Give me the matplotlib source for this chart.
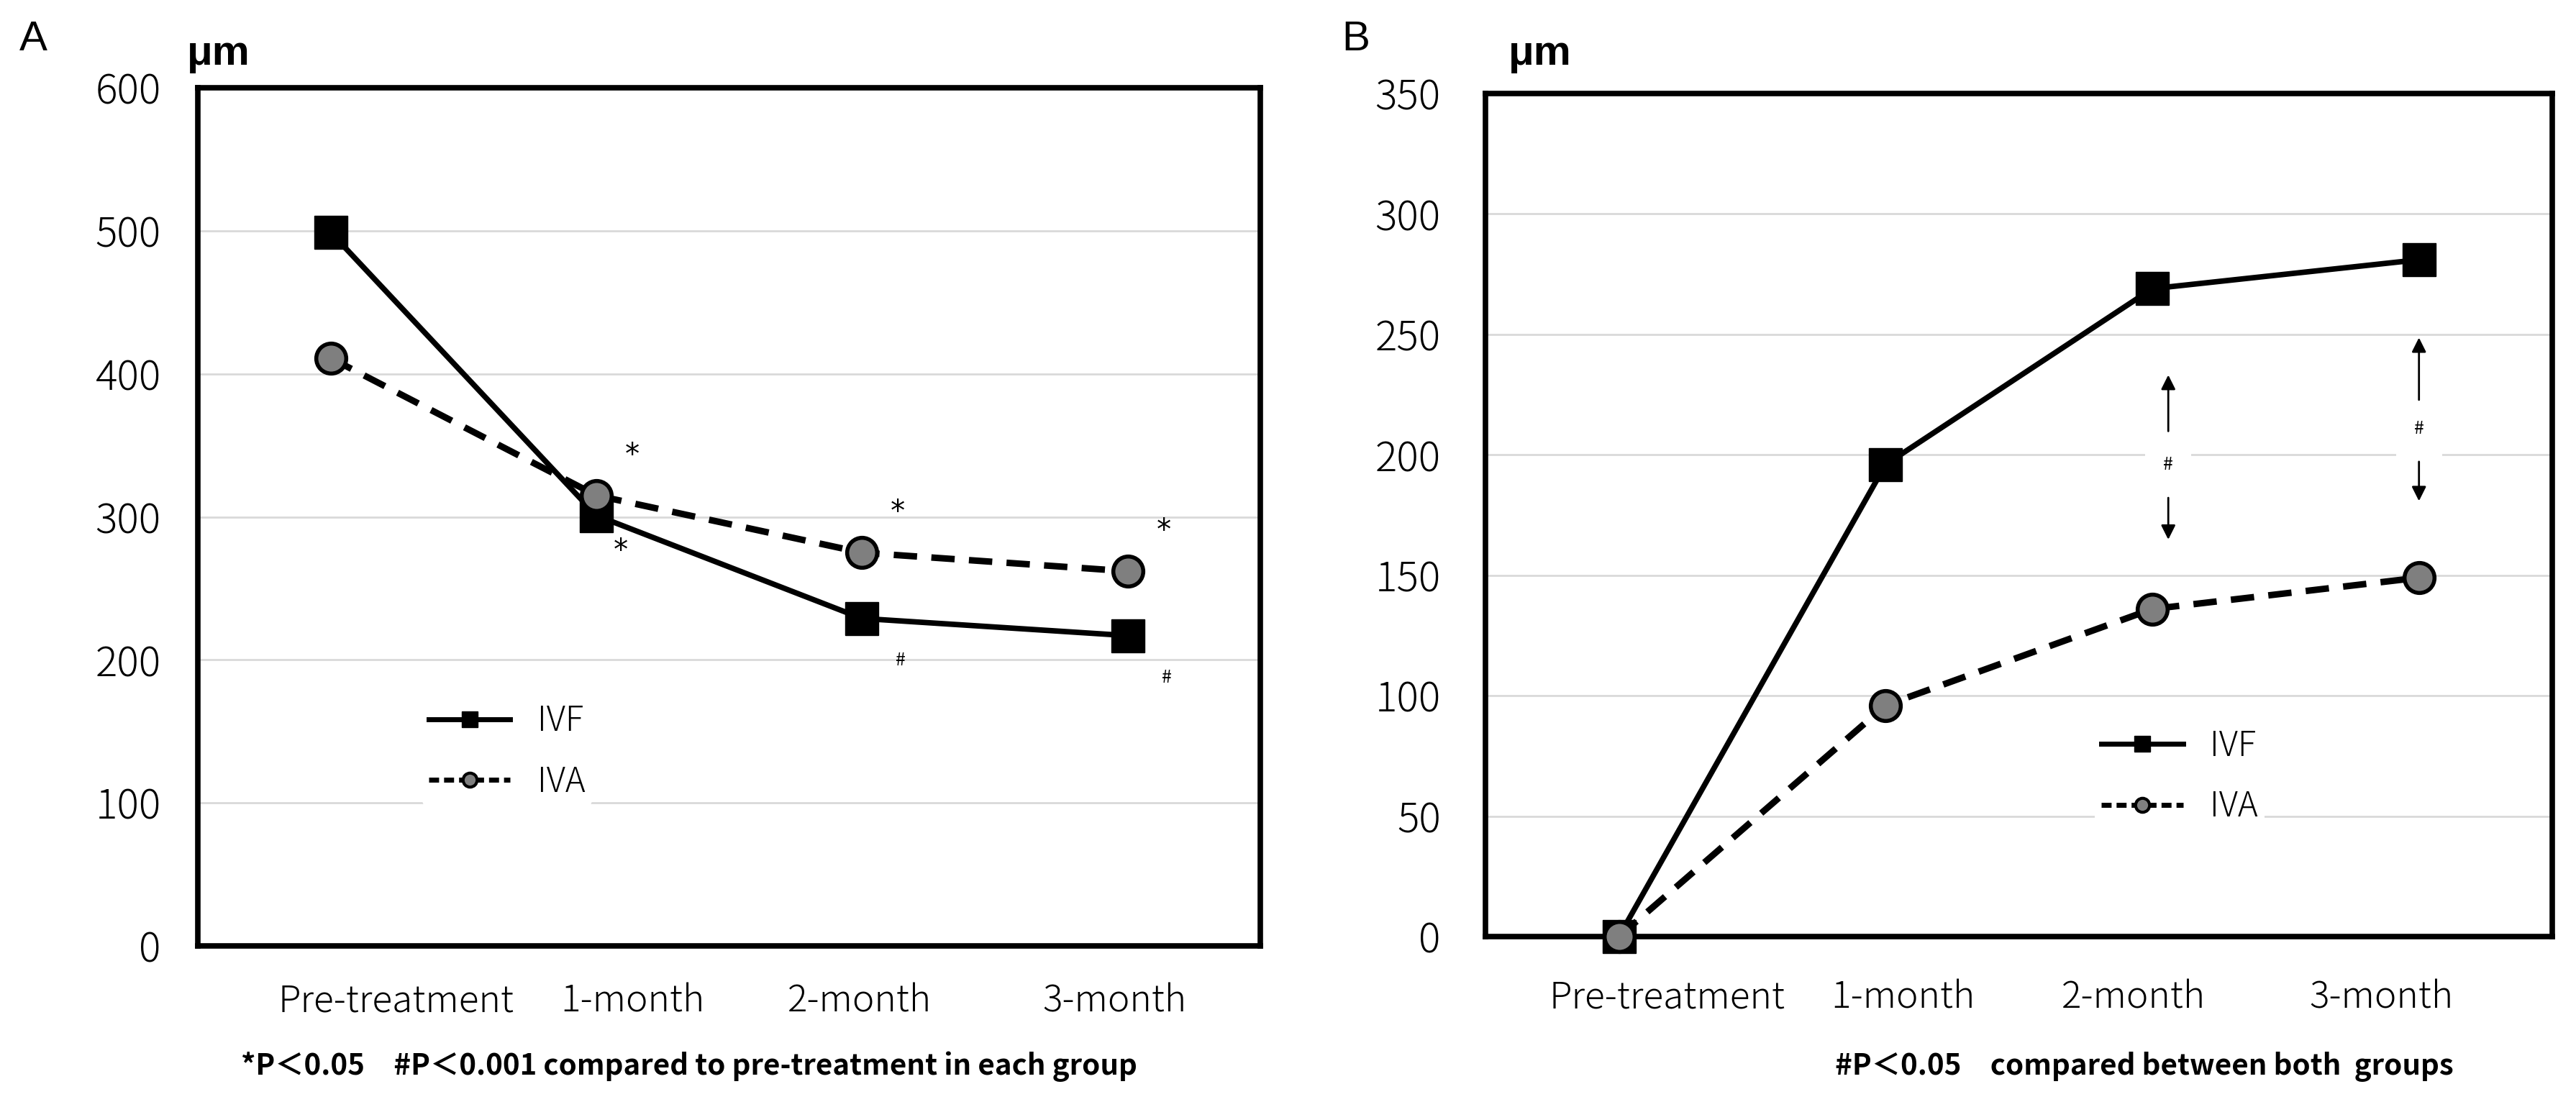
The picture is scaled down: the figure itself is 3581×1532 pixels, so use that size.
import matplotlib
matplotlib.use("Agg")
import matplotlib.pyplot as plt
from matplotlib.lines import Line2D

categories = ["Pre-treatment", "1-month", "2-month", "3-month"]

# panel A values (um)
a_ivf = [499, 301, 229, 217]
a_iva = [411, 315, 275, 262]
a_yticks = [0, 100, 200, 300, 400, 500, 600]
# where the category labels sit (they are not centred under the points)
a_label_pos = [0.245, 1.136, 1.99, 2.95]

# panel B values (um)
b_ivf = [0, 196, 269, 281]
b_iva = [0, 96, 136, 149]
b_yticks = [0, 50, 100, 150, 200, 250, 300, 350]
b_label_pos = [0.182, 1.064, 1.93, 2.86]

# significance marks, panel A (index of time point)
a_star_iva = [1, 2, 3]
a_star_ivf = [1]
a_hash_ivf = [2, 3]

# significance marks, panel B: arrows between groups
b_hash_idx = [2, 3]
b_arrow_x = [2.06, 3.0]
b_hash_y = [196, 211]
b_up = [(209, 234), (222, 249.5)]
b_down = [(183, 164), (198, 180)]

tick_font = "Noto Sans CJK JP"
gray = "#7f7f7f"

fig = plt.figure(figsize=(35.81, 15.32), dpi=100)
axA = fig.add_axes([0.0768, 0.1416, 0.4125, 0.7787])
axB = fig.add_axes([0.5767, 0.1501, 0.4141, 0.7650])


def style_axes(ax, yticks, label_pos, ypad, xpad):
    ax.set_xlim(-0.5, 3.5)
    ax.set_ylim(yticks[0], yticks[-1])
    ax.set_yticks(yticks)
    ax.set_xticks(label_pos)
    ax.set_xticklabels(categories)
    for s in ax.spines.values():
        s.set_linewidth(5.5)
        s.set_color("black")
    ax.yaxis.grid(True, color="#d9d9d9", lw=2)
    ax.set_axisbelow(True)
    ax.tick_params(axis="y", length=0, pad=ypad, labelsize=41)
    ax.tick_params(axis="x", length=0, pad=xpad, labelsize=37)
    for lab in ax.get_xticklabels() + ax.get_yticklabels():
        lab.set_family(tick_font)
        lab.set_weight("light")


def draw_lines(ax, ivf, iva):
    x = range(len(categories))
    ax.plot(x, ivf, color="black", lw=5.5, marker="s", ms=33, zorder=3,
            clip_on=False)
    ax.plot(x, iva, color="black", lw=6.5, ls=(0, (3.6, 2.2)), marker="o",
            ms=30, mfc=gray, mec="black", mew=4, zorder=4, clip_on=False)


def add_legend(ax, anchor):
    handles = [
        Line2D([], [], color="black", lw=5, marker="s", ms=16),
        Line2D([], [], color="black", lw=5, ls=(0, (2, 1)), marker="o",
               ms=14, mfc=gray, mec="black", mew=3),
    ]
    leg = ax.legend(handles, ["IVF", "IVA"], loc="upper left",
                    bbox_to_anchor=anchor, frameon=True, framealpha=1,
                    facecolor="white", edgecolor="none",
                    handlelength=2.4, handletextpad=0.8, labelspacing=0.75,
                    borderpad=0.2,
                    prop={"family": tick_font, "size": 34, "weight": "light"})
    return leg


# ---- panel A
style_axes(axA, a_yticks, a_label_pos, 37, 36)
draw_lines(axA, a_ivf, a_iva)
add_legend(axA, (0.195, 0.31))

for i in a_star_iva:
    axA.annotate("*", xy=(i, a_iva[i]), xytext=(50, 55),
                 textcoords="offset pixels", ha="center", va="center",
                 fontsize=29)
for i in a_star_ivf:
    axA.annotate("*", xy=(i, a_ivf[i]), xytext=(34, -50),
                 textcoords="offset pixels", ha="center", va="center",
                 fontsize=29)
for i in a_hash_ivf:
    axA.annotate("#", xy=(i, a_ivf[i]), xytext=(54, -58),
                 textcoords="offset pixels", ha="center", va="center",
                 fontsize=18, family=tick_font)

# ---- panel B
style_axes(axB, b_yticks, b_label_pos, 45, 42)
draw_lines(axB, b_ivf, b_iva)
add_legend(axB, (0.555, 0.275))

for k, i in enumerate(b_hash_idx):
    x = b_arrow_x[k]
    axB.annotate("", xy=(x, b_up[k][1]), xytext=(x, b_up[k][0]),
                 arrowprops=dict(arrowstyle="-|>", color="black", lw=2,
                                 mutation_scale=30))
    axB.annotate("", xy=(x, b_down[k][1]), xytext=(x, b_down[k][0]),
                 arrowprops=dict(arrowstyle="-|>", color="black", lw=2,
                                 mutation_scale=30))
    axB.text(x, b_hash_y[k], "#", ha="center", va="center", fontsize=18,
             family=tick_font, zorder=2,
             bbox=dict(facecolor="white", edgecolor="none", pad=18))

# ---- labels around the panels
fig.text(0.0075, 0.954, "A", fontsize=42, family="Liberation Sans")
fig.text(0.5208, 0.954, "B", fontsize=42, family="Liberation Sans")
fig.text(0.0726, 0.941, "μm", fontsize=42, family="Liberation Sans",
         weight="bold")
fig.text(0.5856, 0.941, "μm", fontsize=42, family="Liberation Sans",
         weight="bold")

fig.text(0.0935, 0.025, "*P＜0.05　#P＜0.001 compared to pre-treatment in each group",
         fontsize=29, family=tick_font, weight="bold")
fig.text(0.7124, 0.025, "#P＜0.05　compared between both  groups",
         fontsize=29, family=tick_font, weight="bold")

fig.savefig("out.png", dpi=100, facecolor="white")
